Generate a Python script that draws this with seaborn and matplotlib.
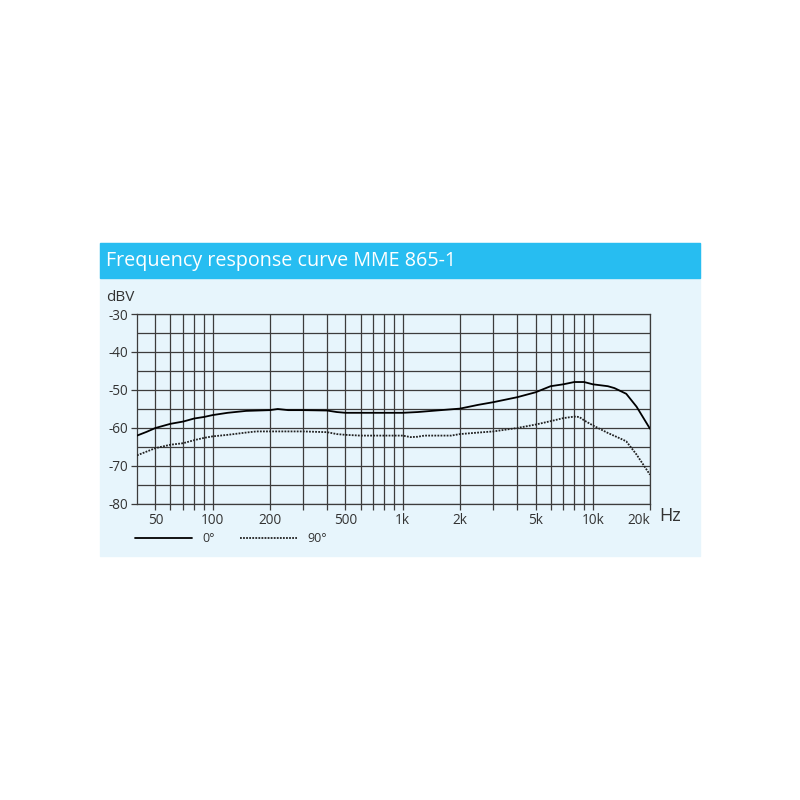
"""
Frequency response curve MME 865-1, redrawn with seaborn.
"""

import pandas as pd
import matplotlib
matplotlib.use("Agg")
import matplotlib.pyplot as plt
from matplotlib.patches import Rectangle
from matplotlib.ticker import FixedLocator, NullFormatter
import seaborn as sns

# ── data ─────────────────────────────────────────────────────────────────────

FREQ_0 = [40, 45, 50, 60, 70, 80, 90, 100, 120, 150, 200, 220, 250, 300, 400,
          450, 500, 700, 1000, 1200, 1500, 2000, 2500, 3000, 4000, 5000, 6000,
          7000, 8000, 9000, 10000, 12000, 13000, 15000, 17000, 20000]
DB_0 = [-62.0, -61.0, -60.0, -58.9, -58.3, -57.5, -57.1, -56.6, -56.0, -55.5,
        -55.3, -55.0, -55.3, -55.3, -55.4, -55.8, -56.0, -56.0, -56.0, -55.8,
        -55.4, -54.9, -53.9, -53.2, -51.9, -50.6, -49.0, -48.5, -47.9, -47.9,
        -48.5, -49.0, -49.5, -51.0, -54.4, -60.2]

FREQ_90 = [40, 50, 60, 70, 80, 90, 100, 120, 150, 170, 200, 300, 400, 450, 500,
           600, 1000, 1100, 1200, 1300, 1800, 2000, 2500, 3000, 4000, 5000, 6000,
           7000, 8000, 8500, 9000, 10000, 12000, 14000, 15000, 17000, 20000]
DB_90 = [-67.2, -65.3, -64.4, -64.0, -63.2, -62.6, -62.2, -61.8, -61.2, -60.9,
         -60.9, -60.9, -61.1, -61.6, -61.8, -62.0, -62.0, -62.4, -62.3, -62.0,
         -62.0, -61.6, -61.2, -60.9, -60.0, -59.1, -58.2, -57.4, -57.0, -57.1,
         -58.0, -59.3, -61.3, -62.8, -63.5, -67.0, -72.3]

SERIES = ["0°", "90°"]
X_MAJOR = [50, 100, 200, 500, 1000, 2000, 5000, 10000, 20000]
X_LABELS = ["50", "100", "200", "500", "1k", "2k", "5k", "10k", "20k"]
X_MINOR = [60, 70, 80, 90, 300, 400, 600, 700, 800, 900,
           3000, 4000, 6000, 7000, 8000, 9000]
Y_MAJOR = [-30, -40, -50, -60, -70, -80]
Y_MINOR = [-35, -45, -55, -65, -75]

TITLE = "Frequency response curve MME 865-1"

# ── style ────────────────────────────────────────────────────────────────────

BAR_BLUE = "#27bdf1"
PANEL_BLUE = "#e7f5fc"
GRID = "#3c3c3c"
TEXT = "#333333"

sns.set_theme(style="white")
plt.rcParams["font.family"] = ["Open Sans", "DejaVu Sans"]
plt.rcParams["axes.unicode_minus"] = False

df = pd.concat([
    pd.DataFrame({"freq": FREQ_0, "db": DB_0, "angle": SERIES[0]}),
    pd.DataFrame({"freq": FREQ_90, "db": DB_90, "angle": SERIES[1]}),
], ignore_index=True)

fig = plt.figure(figsize=(8, 8), dpi=100)
fig.patch.set_facecolor("white")

# panel + title bar (behind the axes)
fig.patches.append(Rectangle((100 / 800, 1 - 556 / 800), 600 / 800, 313 / 800,
                             transform=fig.transFigure, color=PANEL_BLUE, zorder=-2))
fig.patches.append(Rectangle((100 / 800, 1 - 278 / 800), 600 / 800, 35 / 800,
                             transform=fig.transFigure, color=BAR_BLUE, zorder=-1))
fig.text(106 / 800, 1 - 261 / 800, TITLE, color="white", fontsize=14.2,
         va="center", ha="left")

ax = fig.add_axes([137 / 800, 1 - 504 / 800, 513 / 800, 190 / 800])
ax.set_zorder(2)
ax.set_facecolor(PANEL_BLUE)

sns.lineplot(data=df, x="freq", y="db", hue="angle", style="angle",
             palette={SERIES[0]: "black", SERIES[1]: "#222222"},
             dashes={SERIES[0]: "", SERIES[1]: (1, 0.7)},
             linewidth=1.3, ax=ax, legend=True, zorder=3)

ax.set_xscale("log")
ax.set_xlim(40, 20000)
ax.set_ylim(-80, -30)

ax.xaxis.set_major_locator(FixedLocator(X_MAJOR))
ax.set_xticklabels(X_LABELS)
ax.get_xticklabels()[-1].set_horizontalalignment("right")
ax.xaxis.set_minor_locator(FixedLocator(X_MINOR))
ax.xaxis.set_minor_formatter(NullFormatter())
ax.set_yticks(Y_MAJOR)
ax.set_yticks(Y_MINOR, minor=True)

ax.grid(True, which="both", color=GRID, linewidth=0.9)
ax.tick_params(axis="both", which="both", direction="out", length=4,
               width=0.9, color=GRID, labelcolor=TEXT, labelsize=9.8,
               bottom=True, left=True, pad=2.5)
ax.tick_params(axis="y", which="minor", length=0)
for sp in ax.spines.values():
    sp.set_color(GRID)
    sp.set_linewidth(0.9)

ax.set_xlabel("")
ax.set_ylabel("")
fig.text(106 / 800, 1 - 297 / 800, "dBV", color=TEXT, fontsize=11,
         va="center", ha="left")
fig.text(659 / 800, 1 - 516 / 800, "Hz", color=TEXT, fontsize=13,
         va="center", ha="left")

handles, labels = ax.get_legend_handles_labels()
ax.legend(handles, labels, loc="upper left", bbox_to_anchor=(-0.026, -0.09),
          ncol=2, frameon=False, handlelength=4.6, columnspacing=2.0,
          handletextpad=0.8, fontsize=9, labelcolor=TEXT)

fig.savefig("out.png", dpi=100)
plt.close(fig)
